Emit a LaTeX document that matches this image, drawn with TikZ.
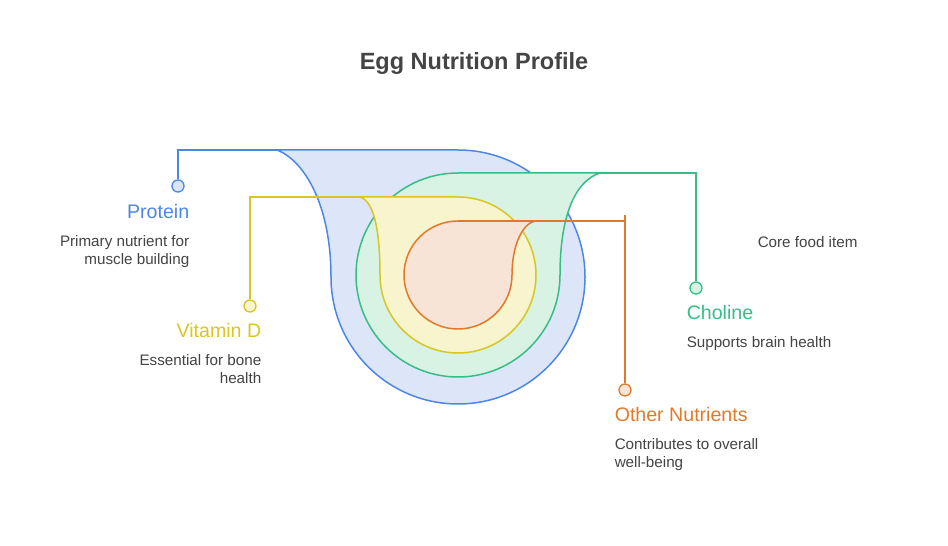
\documentclass[tikz,border=0pt]{standalone}
\usepackage{fontspec}
\setmainfont{Liberation Sans}
\definecolor{bS}{HTML}{4C87E6}\definecolor{bF}{HTML}{DCE6F8}
\definecolor{gS}{HTML}{38BD86}\definecolor{gF}{HTML}{D8F2E4}
\definecolor{yS}{HTML}{D8C624}\definecolor{yF}{HTML}{F8F4CE}
\definecolor{oS}{HTML}{E07A2A}\definecolor{oF}{HTML}{F7E4D6}
\definecolor{tx}{HTML}{444444}
\tikzset{dot/.style={circle,draw=#1S,fill=#1F,line width=1.3pt,inner sep=0pt,minimum size=12pt},
lbl/.style={font=\fontsize{19.6}{22}\selectfont,inner sep=0pt},
desc/.style={font=\fontsize{15.2}{18}\selectfont,text=tx,inner sep=0pt,align=#1}}
\begin{document}
\begin{tikzpicture}[x=1pt,y=1pt,line width=1.5pt]
\useasboundingbox[fill=white] (0,0) rectangle (948,546);
\node[font=\bfseries\fontsize{23.5}{26}\selectfont,text=tx] (title) at (474,483) {Egg Nutrition Profile};
% shapes
\draw[bS,fill=bF] (277,396) -- (458,396) arc[start angle=90,end angle=-180,radius=127] .. controls (331,340) and (305,385) .. cycle;
\draw[gS,fill=gF] (600,373) -- (458,373) arc[start angle=90,end angle=360,radius=102] .. controls (560,330) and (575,365) .. cycle;
\draw[yS,fill=yF] (360,349) -- (458,349) arc[start angle=90,end angle=-180,radius=78] .. controls (380,315) and (374,345) .. cycle;
\draw[oS,fill=oF] (535,325) -- (458,325) arc[start angle=90,end angle=360,radius=54] .. controls (512,300) and (522,322) .. cycle;
% leaders
\coordinate (pb) at (277,396); \coordinate (yb) at (360,349);
\coordinate (gb) at (600,373); \coordinate (ob) at (458,325);
\coordinate (ot) at (625,331);
\node[dot=b] (pd) at (178,360) {};
\node[dot=y] (yd) at (250,240) {};
\node[dot=g] (gd) at (696,258) {};
\node[dot=o] (od) at (625,156) {};
\draw[bS] (pd) |- (pb);
\draw[yS] (yd) |- (yb);
\draw[gS] (gd) |- (gb);
\draw[oS] (od) -- (ot);
\draw[oS] (ob) -- (625,325);
% texts
\node[lbl,text=bS,anchor=east] (pt) at (190,335) {Protein};
\node[desc=right,anchor=north east] (pdsc) at (190,311) {Primary nutrient for\\muscle building};
\node[lbl,text=yS,anchor=east] (vt) at (262,216) {Vitamin D};
\node[desc=right,anchor=north east] (vdsc) at (262,192) {Essential for bone\\health};
\node[lbl,text=gS,anchor=west] (ct) at (686,234) {Choline};
\node[desc=left,anchor=north west] (cdsc) at (686,210) {Supports brain health};
\node[desc=left,anchor=west] (core) at (757,304) {Core food item};
\node[lbl,text=oS,anchor=west] (onut) at (614,132) {Other Nutrients};
\node[desc=left,anchor=north west] (odsc) at (614,108) {Contributes to overall\\well-being};
\end{tikzpicture}
\end{document}
